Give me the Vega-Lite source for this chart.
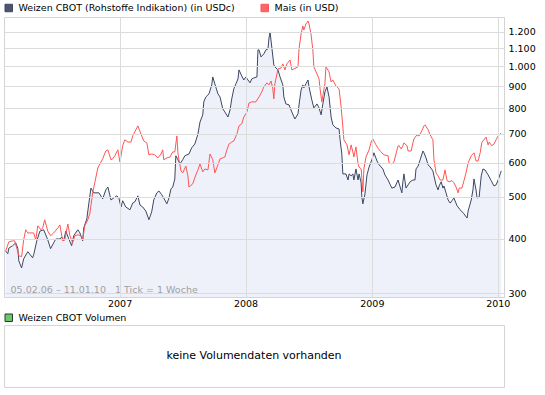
{
"$schema":"https://vega.github.io/schema/vega-lite/v6.json",
"padding":{"left":3,"top":2,"right":0,"bottom":0},
"background":"white",
"config":{
 "font":"DejaVu Sans",
 "view":{"stroke":"#d4d4d4","strokeWidth":1},
 "axis":{"labelFont":"DejaVu Sans","labelFontSize":9.5,"labelColor":"#000000","gridColor":"#dcdcdc","gridWidth":1,"domain":false,"ticks":false},
 "legend":{"labelFont":"DejaVu Sans","labelFontSize":9.5,"labelColor":"#000000","symbolType":"square","symbolSize":56,"orient":"top","offset":3,"padding":0,"columnPadding":24,"labelOffset":5,"rowPadding":0,"labelLimit":400}
},
"datasets":{"prices":[
{"d":"2006-02-05","s":"Weizen","v":375},{"d":"2006-02-11","s":"Weizen","v":370},{"d":"2006-02-14","s":"Weizen","v":381},{"d":"2006-02-25","s":"Weizen","v":386},{"d":"2006-03-06","s":"Weizen","v":392},{"d":"2006-03-12","s":"Weizen","v":381},{"d":"2006-03-15","s":"Weizen","v":356},{"d":"2006-03-23","s":"Weizen","v":343},{"d":"2006-03-29","s":"Weizen","v":360},{"d":"2006-04-10","s":"Weizen","v":374},{"d":"2006-04-24","s":"Weizen","v":362},{"d":"2006-04-27","s":"Weizen","v":368},{"d":"2006-05-06","s":"Weizen","v":396},{"d":"2006-05-15","s":"Weizen","v":417},{"d":"2006-05-26","s":"Weizen","v":420},{"d":"2006-06-07","s":"Weizen","v":398},{"d":"2006-06-15","s":"Weizen","v":380},{"d":"2006-06-24","s":"Weizen","v":392},{"d":"2006-06-30","s":"Weizen","v":400},{"d":"2006-07-12","s":"Weizen","v":400},{"d":"2006-07-17","s":"Weizen","v":404},{"d":"2006-07-23","s":"Weizen","v":396},{"d":"2006-07-29","s":"Weizen","v":417},{"d":"2006-08-07","s":"Weizen","v":400},{"d":"2006-08-15","s":"Weizen","v":386},{"d":"2006-08-21","s":"Weizen","v":407},{"d":"2006-09-02","s":"Weizen","v":420},{"d":"2006-09-08","s":"Weizen","v":413},{"d":"2006-09-16","s":"Weizen","v":396},{"d":"2006-09-19","s":"Weizen","v":424},{"d":"2006-09-28","s":"Weizen","v":445},{"d":"2006-10-04","s":"Weizen","v":484},{"d":"2006-10-10","s":"Weizen","v":524},{"d":"2006-10-18","s":"Weizen","v":511},{"d":"2006-11-02","s":"Weizen","v":511},{"d":"2006-11-13","s":"Weizen","v":495},{"d":"2006-11-22","s":"Weizen","v":519},{"d":"2006-11-28","s":"Weizen","v":527},{"d":"2006-12-07","s":"Weizen","v":492},{"d":"2006-12-15","s":"Weizen","v":497},{"d":"2006-12-24","s":"Weizen","v":503},{"d":"2006-12-30","s":"Weizen","v":497},
{"d":"2007-01-05","s":"Weizen","v":474},{"d":"2007-01-10","s":"Weizen","v":490},{"d":"2007-01-19","s":"Weizen","v":474},{"d":"2007-01-31","s":"Weizen","v":467},{"d":"2007-02-08","s":"Weizen","v":484},{"d":"2007-02-14","s":"Weizen","v":487},{"d":"2007-02-23","s":"Weizen","v":503},{"d":"2007-03-01","s":"Weizen","v":479},{"d":"2007-03-09","s":"Weizen","v":474},{"d":"2007-03-18","s":"Weizen","v":464},{"d":"2007-03-27","s":"Weizen","v":443},{"d":"2007-04-04","s":"Weizen","v":462},{"d":"2007-04-10","s":"Weizen","v":492},{"d":"2007-04-19","s":"Weizen","v":511},{"d":"2007-04-25","s":"Weizen","v":516},{"d":"2007-05-03","s":"Weizen","v":506},{"d":"2007-05-09","s":"Weizen","v":497},{"d":"2007-05-18","s":"Weizen","v":482},{"d":"2007-05-24","s":"Weizen","v":497},{"d":"2007-05-30","s":"Weizen","v":522},{"d":"2007-06-04","s":"Weizen","v":527},{"d":"2007-06-10","s":"Weizen","v":550},{"d":"2007-06-13","s":"Weizen","v":622},{"d":"2007-06-19","s":"Weizen","v":609},{"d":"2007-06-25","s":"Weizen","v":596},{"d":"2007-07-03","s":"Weizen","v":609},{"d":"2007-07-09","s":"Weizen","v":622},{"d":"2007-07-21","s":"Weizen","v":628},{"d":"2007-07-29","s":"Weizen","v":649},{"d":"2007-08-07","s":"Weizen","v":662},{"d":"2007-08-16","s":"Weizen","v":698},{"d":"2007-08-22","s":"Weizen","v":744},{"d":"2007-08-30","s":"Weizen","v":773},{"d":"2007-09-02","s":"Weizen","v":828},{"d":"2007-09-08","s":"Weizen","v":850},{"d":"2007-09-17","s":"Weizen","v":864},{"d":"2007-09-25","s":"Weizen","v":906},{"d":"2007-09-28","s":"Weizen","v":945},{"d":"2007-10-04","s":"Weizen","v":911},{"d":"2007-10-13","s":"Weizen","v":864},{"d":"2007-10-19","s":"Weizen","v":850},{"d":"2007-10-27","s":"Weizen","v":798},{"d":"2007-11-02","s":"Weizen","v":785},{"d":"2007-11-11","s":"Weizen","v":764},{"d":"2007-11-17","s":"Weizen","v":793},{"d":"2007-11-22","s":"Weizen","v":841},{"d":"2007-11-28","s":"Weizen","v":887},{"d":"2007-12-04","s":"Weizen","v":911},{"d":"2007-12-10","s":"Weizen","v":935},{"d":"2007-12-13","s":"Weizen","v":981},{"d":"2007-12-21","s":"Weizen","v":950},{"d":"2007-12-27","s":"Weizen","v":930},
{"d":"2008-01-02","s":"Weizen","v":945},{"d":"2008-01-08","s":"Weizen","v":930},{"d":"2008-01-14","s":"Weizen","v":916},{"d":"2008-01-19","s":"Weizen","v":935},{"d":"2008-01-25","s":"Weizen","v":940},{"d":"2008-02-03","s":"Weizen","v":945},{"d":"2008-02-06","s":"Weizen","v":1091},{"d":"2008-02-09","s":"Weizen","v":1091},{"d":"2008-02-15","s":"Weizen","v":1051},{"d":"2008-02-23","s":"Weizen","v":1068},{"d":"2008-02-29","s":"Weizen","v":1091},{"d":"2008-03-06","s":"Weizen","v":1097},{"d":"2008-03-09","s":"Weizen","v":1162},{"d":"2008-03-12","s":"Weizen","v":1200},{"d":"2008-03-17","s":"Weizen","v":1108},{"d":"2008-03-23","s":"Weizen","v":1007},{"d":"2008-03-29","s":"Weizen","v":991},{"d":"2008-04-04","s":"Weizen","v":981},{"d":"2008-04-10","s":"Weizen","v":945},{"d":"2008-04-18","s":"Weizen","v":906},{"d":"2008-04-21","s":"Weizen","v":850},{"d":"2008-04-27","s":"Weizen","v":819},{"d":"2008-05-06","s":"Weizen","v":815},{"d":"2008-05-14","s":"Weizen","v":785},{"d":"2008-05-23","s":"Weizen","v":756},{"d":"2008-06-01","s":"Weizen","v":777},{"d":"2008-06-04","s":"Weizen","v":815},{"d":"2008-06-10","s":"Weizen","v":882},{"d":"2008-06-15","s":"Weizen","v":906},{"d":"2008-06-18","s":"Weizen","v":892},{"d":"2008-06-24","s":"Weizen","v":911},{"d":"2008-06-30","s":"Weizen","v":930},{"d":"2008-07-03","s":"Weizen","v":896},{"d":"2008-07-11","s":"Weizen","v":837},{"d":"2008-07-17","s":"Weizen","v":802},{"d":"2008-07-26","s":"Weizen","v":819},{"d":"2008-08-01","s":"Weizen","v":802},{"d":"2008-08-07","s":"Weizen","v":773},{"d":"2008-08-12","s":"Weizen","v":819},{"d":"2008-08-18","s":"Weizen","v":873},{"d":"2008-08-24","s":"Weizen","v":896},{"d":"2008-08-30","s":"Weizen","v":850},{"d":"2008-09-05","s":"Weizen","v":764},{"d":"2008-09-10","s":"Weizen","v":733},{"d":"2008-09-19","s":"Weizen","v":721},{"d":"2008-09-28","s":"Weizen","v":717},{"d":"2008-10-01","s":"Weizen","v":677},{"d":"2008-10-06","s":"Weizen","v":628},{"d":"2008-10-09","s":"Weizen","v":565},{"d":"2008-10-18","s":"Weizen","v":565},{"d":"2008-10-24","s":"Weizen","v":547},{"d":"2008-10-27","s":"Weizen","v":565},{"d":"2008-11-02","s":"Weizen","v":559},{"d":"2008-11-07","s":"Weizen","v":565},{"d":"2008-11-10","s":"Weizen","v":547},{"d":"2008-11-16","s":"Weizen","v":580},{"d":"2008-11-22","s":"Weizen","v":547},{"d":"2008-11-25","s":"Weizen","v":565},{"d":"2008-12-01","s":"Weizen","v":539},{"d":"2008-12-03","s":"Weizen","v":500},{"d":"2008-12-06","s":"Weizen","v":482},{"d":"2008-12-12","s":"Weizen","v":508},{"d":"2008-12-18","s":"Weizen","v":562},{"d":"2008-12-24","s":"Weizen","v":586},
{"d":"2009-01-01","s":"Weizen","v":609},{"d":"2009-01-07","s":"Weizen","v":632},{"d":"2009-01-16","s":"Weizen","v":605},{"d":"2009-01-22","s":"Weizen","v":593},{"d":"2009-02-02","s":"Weizen","v":580},{"d":"2009-02-08","s":"Weizen","v":562},{"d":"2009-02-17","s":"Weizen","v":547},{"d":"2009-02-28","s":"Weizen","v":524},{"d":"2009-03-09","s":"Weizen","v":527},{"d":"2009-03-18","s":"Weizen","v":547},{"d":"2009-03-24","s":"Weizen","v":527},{"d":"2009-03-29","s":"Weizen","v":511},{"d":"2009-04-01","s":"Weizen","v":542},{"d":"2009-04-04","s":"Weizen","v":565},{"d":"2009-04-10","s":"Weizen","v":524},{"d":"2009-04-16","s":"Weizen","v":533},{"d":"2009-04-22","s":"Weizen","v":542},{"d":"2009-04-30","s":"Weizen","v":547},{"d":"2009-05-06","s":"Weizen","v":547},{"d":"2009-05-09","s":"Weizen","v":580},{"d":"2009-05-15","s":"Weizen","v":589},{"d":"2009-05-21","s":"Weizen","v":609},{"d":"2009-05-29","s":"Weizen","v":638},{"d":"2009-06-01","s":"Weizen","v":632},{"d":"2009-06-07","s":"Weizen","v":615},{"d":"2009-06-13","s":"Weizen","v":593},{"d":"2009-06-19","s":"Weizen","v":586},{"d":"2009-06-27","s":"Weizen","v":574},{"d":"2009-06-30","s":"Weizen","v":559},{"d":"2009-07-06","s":"Weizen","v":533},{"d":"2009-07-12","s":"Weizen","v":519},{"d":"2009-07-15","s":"Weizen","v":530},{"d":"2009-07-21","s":"Weizen","v":542},{"d":"2009-07-26","s":"Weizen","v":524},{"d":"2009-07-29","s":"Weizen","v":530},{"d":"2009-08-04","s":"Weizen","v":511},{"d":"2009-08-10","s":"Weizen","v":492},{"d":"2009-08-16","s":"Weizen","v":484},{"d":"2009-08-21","s":"Weizen","v":490},{"d":"2009-08-27","s":"Weizen","v":497},{"d":"2009-09-05","s":"Weizen","v":477},{"d":"2009-09-14","s":"Weizen","v":467},{"d":"2009-09-25","s":"Weizen","v":457},{"d":"2009-10-04","s":"Weizen","v":447},{"d":"2009-10-07","s":"Weizen","v":464},{"d":"2009-10-16","s":"Weizen","v":492},{"d":"2009-10-21","s":"Weizen","v":519},{"d":"2009-10-24","s":"Weizen","v":550},{"d":"2009-10-30","s":"Weizen","v":519},{"d":"2009-11-02","s":"Weizen","v":497},{"d":"2009-11-08","s":"Weizen","v":500},{"d":"2009-11-14","s":"Weizen","v":559},{"d":"2009-11-19","s":"Weizen","v":580},{"d":"2009-11-25","s":"Weizen","v":577},{"d":"2009-12-04","s":"Weizen","v":562},{"d":"2009-12-13","s":"Weizen","v":545},{"d":"2009-12-21","s":"Weizen","v":530},{"d":"2009-12-27","s":"Weizen","v":533},{"d":"2010-01-02","s":"Weizen","v":547},{"d":"2010-01-08","s":"Weizen","v":565},{"d":"2010-01-11","s":"Weizen","v":574},
{"d":"2006-02-05","s":"Mais","v":375},{"d":"2006-02-14","s":"Mais","v":394},{"d":"2006-02-25","s":"Mais","v":396},{"d":"2006-03-03","s":"Mais","v":396},{"d":"2006-03-09","s":"Mais","v":381},{"d":"2006-03-15","s":"Mais","v":366},{"d":"2006-03-23","s":"Mais","v":364},{"d":"2006-03-29","s":"Mais","v":398},{"d":"2006-04-04","s":"Mais","v":420},{"d":"2006-04-10","s":"Mais","v":413},{"d":"2006-04-27","s":"Mais","v":413},{"d":"2006-05-03","s":"Mais","v":398},{"d":"2006-05-09","s":"Mais","v":429},{"d":"2006-05-18","s":"Mais","v":420},{"d":"2006-05-23","s":"Mais","v":424},{"d":"2006-05-29","s":"Mais","v":443},{"d":"2006-06-07","s":"Mais","v":417},{"d":"2006-06-15","s":"Mais","v":407},{"d":"2006-06-24","s":"Mais","v":413},{"d":"2006-07-06","s":"Mais","v":424},{"d":"2006-07-12","s":"Mais","v":431},{"d":"2006-07-20","s":"Mais","v":396},{"d":"2006-07-26","s":"Mais","v":398},{"d":"2006-08-04","s":"Mais","v":433},{"d":"2006-08-10","s":"Mais","v":407},{"d":"2006-08-18","s":"Mais","v":392},{"d":"2006-08-24","s":"Mais","v":407},{"d":"2006-09-02","s":"Mais","v":409},{"d":"2006-09-11","s":"Mais","v":407},{"d":"2006-09-16","s":"Mais","v":398},{"d":"2006-09-22","s":"Mais","v":429},{"d":"2006-10-01","s":"Mais","v":443},{"d":"2006-10-07","s":"Mais","v":459},{"d":"2006-10-15","s":"Mais","v":511},{"d":"2006-10-21","s":"Mais","v":539},{"d":"2006-10-30","s":"Mais","v":583},{"d":"2006-11-05","s":"Mais","v":596},{"d":"2006-11-08","s":"Mais","v":602},{"d":"2006-11-13","s":"Mais","v":612},{"d":"2006-11-22","s":"Mais","v":638},{"d":"2006-11-28","s":"Mais","v":642},{"d":"2006-12-07","s":"Mais","v":609},{"d":"2006-12-12","s":"Mais","v":612},{"d":"2006-12-18","s":"Mais","v":622},{"d":"2006-12-27","s":"Mais","v":642},
{"d":"2007-01-02","s":"Mais","v":602},{"d":"2007-01-10","s":"Mais","v":656},{"d":"2007-01-16","s":"Mais","v":677},{"d":"2007-01-25","s":"Mais","v":669},{"d":"2007-02-03","s":"Mais","v":669},{"d":"2007-02-08","s":"Mais","v":691},{"d":"2007-02-23","s":"Mais","v":729},{"d":"2007-03-04","s":"Mais","v":698},{"d":"2007-03-12","s":"Mais","v":673},{"d":"2007-03-21","s":"Mais","v":666},{"d":"2007-03-27","s":"Mais","v":625},{"d":"2007-04-04","s":"Mais","v":628},{"d":"2007-04-13","s":"Mais","v":625},{"d":"2007-04-22","s":"Mais","v":615},{"d":"2007-05-01","s":"Mais","v":628},{"d":"2007-05-06","s":"Mais","v":642},{"d":"2007-05-09","s":"Mais","v":609},{"d":"2007-05-18","s":"Mais","v":615},{"d":"2007-05-27","s":"Mais","v":618},{"d":"2007-06-04","s":"Mais","v":635},{"d":"2007-06-10","s":"Mais","v":635},{"d":"2007-06-16","s":"Mais","v":691},{"d":"2007-06-19","s":"Mais","v":632},{"d":"2007-06-22","s":"Mais","v":609},{"d":"2007-06-28","s":"Mais","v":574},{"d":"2007-07-03","s":"Mais","v":568},{"d":"2007-07-12","s":"Mais","v":589},{"d":"2007-07-18","s":"Mais","v":559},{"d":"2007-07-21","s":"Mais","v":527},{"d":"2007-08-01","s":"Mais","v":536},{"d":"2007-08-10","s":"Mais","v":562},{"d":"2007-08-16","s":"Mais","v":577},{"d":"2007-08-22","s":"Mais","v":596},{"d":"2007-08-30","s":"Mais","v":571},{"d":"2007-09-05","s":"Mais","v":580},{"d":"2007-09-14","s":"Mais","v":577},{"d":"2007-09-20","s":"Mais","v":628},{"d":"2007-09-28","s":"Mais","v":609},{"d":"2007-10-04","s":"Mais","v":568},{"d":"2007-10-13","s":"Mais","v":593},{"d":"2007-10-19","s":"Mais","v":612},{"d":"2007-10-27","s":"Mais","v":615},{"d":"2007-11-02","s":"Mais","v":618},{"d":"2007-11-08","s":"Mais","v":642},{"d":"2007-11-14","s":"Mais","v":662},{"d":"2007-11-22","s":"Mais","v":669},{"d":"2007-11-28","s":"Mais","v":673},{"d":"2007-12-07","s":"Mais","v":698},{"d":"2007-12-13","s":"Mais","v":729},{"d":"2007-12-21","s":"Mais","v":737},{"d":"2007-12-27","s":"Mais","v":764},
{"d":"2008-01-05","s":"Mais","v":785},{"d":"2008-01-11","s":"Mais","v":823},{"d":"2008-01-19","s":"Mais","v":828},{"d":"2008-01-31","s":"Mais","v":828},{"d":"2008-02-09","s":"Mais","v":850},{"d":"2008-02-17","s":"Mais","v":873},{"d":"2008-02-23","s":"Mais","v":896},{"d":"2008-03-03","s":"Mais","v":916},{"d":"2008-03-09","s":"Mais","v":906},{"d":"2008-03-15","s":"Mais","v":925},{"d":"2008-03-20","s":"Mais","v":887},{"d":"2008-03-23","s":"Mais","v":841},{"d":"2008-03-26","s":"Mais","v":911},{"d":"2008-04-01","s":"Mais","v":960},{"d":"2008-04-04","s":"Mais","v":986},{"d":"2008-04-13","s":"Mais","v":991},{"d":"2008-04-18","s":"Mais","v":1013},{"d":"2008-04-24","s":"Mais","v":981},{"d":"2008-04-30","s":"Mais","v":1013},{"d":"2008-05-09","s":"Mais","v":1034},{"d":"2008-05-14","s":"Mais","v":981},{"d":"2008-05-20","s":"Mais","v":986},{"d":"2008-06-01","s":"Mais","v":997},{"d":"2008-06-04","s":"Mais","v":1097},{"d":"2008-06-10","s":"Mais","v":1187},{"d":"2008-06-15","s":"Mais","v":1239},{"d":"2008-06-18","s":"Mais","v":1213},{"d":"2008-06-24","s":"Mais","v":1252},{"d":"2008-06-30","s":"Mais","v":1272},{"d":"2008-07-03","s":"Mais","v":1252},{"d":"2008-07-09","s":"Mais","v":1181},{"d":"2008-07-14","s":"Mais","v":1091},{"d":"2008-07-17","s":"Mais","v":997},{"d":"2008-07-26","s":"Mais","v":960},{"d":"2008-08-01","s":"Mais","v":935},{"d":"2008-08-04","s":"Mais","v":887},{"d":"2008-08-09","s":"Mais","v":828},{"d":"2008-08-12","s":"Mais","v":855},{"d":"2008-08-18","s":"Mais","v":911},{"d":"2008-08-21","s":"Mais","v":997},{"d":"2008-08-30","s":"Mais","v":971},{"d":"2008-09-05","s":"Mais","v":920},{"d":"2008-09-10","s":"Mais","v":930},{"d":"2008-09-19","s":"Mais","v":901},{"d":"2008-09-28","s":"Mais","v":887},{"d":"2008-10-04","s":"Mais","v":806},{"d":"2008-10-09","s":"Mais","v":725},{"d":"2008-10-12","s":"Mais","v":677},{"d":"2008-10-21","s":"Mais","v":659},{"d":"2008-10-27","s":"Mais","v":625},{"d":"2008-11-02","s":"Mais","v":659},{"d":"2008-11-07","s":"Mais","v":635},{"d":"2008-11-10","s":"Mais","v":618},{"d":"2008-11-16","s":"Mais","v":652},{"d":"2008-11-22","s":"Mais","v":596},{"d":"2008-11-25","s":"Mais","v":586},{"d":"2008-12-01","s":"Mais","v":580},{"d":"2008-12-06","s":"Mais","v":514},{"d":"2008-12-09","s":"Mais","v":580},{"d":"2008-12-15","s":"Mais","v":618},{"d":"2008-12-24","s":"Mais","v":642},{"d":"2008-12-30","s":"Mais","v":669},
{"d":"2009-01-04","s":"Mais","v":680},{"d":"2009-01-13","s":"Mais","v":659},{"d":"2009-01-22","s":"Mais","v":642},{"d":"2009-01-28","s":"Mais","v":635},{"d":"2009-02-05","s":"Mais","v":625},{"d":"2009-02-17","s":"Mais","v":622},{"d":"2009-02-20","s":"Mais","v":599},{"d":"2009-02-28","s":"Mais","v":596},{"d":"2009-03-06","s":"Mais","v":602},{"d":"2009-03-12","s":"Mais","v":628},{"d":"2009-03-18","s":"Mais","v":656},{"d":"2009-03-21","s":"Mais","v":656},{"d":"2009-03-27","s":"Mais","v":645},{"d":"2009-04-01","s":"Mais","v":656},{"d":"2009-04-04","s":"Mais","v":666},{"d":"2009-04-13","s":"Mais","v":656},{"d":"2009-04-16","s":"Mais","v":638},{"d":"2009-04-25","s":"Mais","v":638},{"d":"2009-04-30","s":"Mais","v":666},{"d":"2009-05-03","s":"Mais","v":680},{"d":"2009-05-12","s":"Mais","v":695},{"d":"2009-05-18","s":"Mais","v":691},{"d":"2009-05-26","s":"Mais","v":710},{"d":"2009-06-01","s":"Mais","v":729},{"d":"2009-06-04","s":"Mais","v":733},{"d":"2009-06-13","s":"Mais","v":714},{"d":"2009-06-19","s":"Mais","v":695},{"d":"2009-06-27","s":"Mais","v":677},{"d":"2009-06-30","s":"Mais","v":609},{"d":"2009-07-06","s":"Mais","v":568},{"d":"2009-07-12","s":"Mais","v":559},{"d":"2009-07-18","s":"Mais","v":547},{"d":"2009-07-26","s":"Mais","v":547},{"d":"2009-08-01","s":"Mais","v":577},{"d":"2009-08-07","s":"Mais","v":545},{"d":"2009-08-13","s":"Mais","v":542},{"d":"2009-08-21","s":"Mais","v":545},{"d":"2009-08-27","s":"Mais","v":539},{"d":"2009-09-02","s":"Mais","v":527},{"d":"2009-09-08","s":"Mais","v":511},{"d":"2009-09-11","s":"Mais","v":524},{"d":"2009-09-19","s":"Mais","v":524},{"d":"2009-09-25","s":"Mais","v":545},{"d":"2009-10-01","s":"Mais","v":568},{"d":"2009-10-07","s":"Mais","v":599},{"d":"2009-10-16","s":"Mais","v":622},{"d":"2009-10-24","s":"Mais","v":632},{"d":"2009-10-30","s":"Mais","v":605},{"d":"2009-11-05","s":"Mais","v":605},{"d":"2009-11-11","s":"Mais","v":632},{"d":"2009-11-16","s":"Mais","v":669},{"d":"2009-11-22","s":"Mais","v":677},{"d":"2009-11-28","s":"Mais","v":687},{"d":"2009-12-04","s":"Mais","v":659},{"d":"2009-12-07","s":"Mais","v":669},{"d":"2009-12-15","s":"Mais","v":656},{"d":"2009-12-21","s":"Mais","v":662},{"d":"2009-12-27","s":"Mais","v":677},{"d":"2010-01-02","s":"Mais","v":691},{"d":"2010-01-11","s":"Mais","v":702}
]},
"vconcat":[
 {
  "width":500,"height":280,
  "layer":[
   {"data":{"name":"prices"},"transform":[{"filter":"datum.s == 'Weizen'"}],
    "mark":{"type":"area","color":"#eef1fa","interpolate":"linear"},
    "encoding":{
     "x":{"field":"d","type":"temporal","scale":{"domain":[{"year":2006,"month":1,"date":31},{"year":2010,"month":1,"date":19}]},
        "axis":{"title":null,"values":[{"year":2007,"month":1,"date":1},{"year":2008,"month":1,"date":1},{"year":2009,"month":1,"date":1},{"year":2010,"month":1,"date":1}],"format":"%Y","grid":true,"labelPadding":1,"zindex":1}},
     "y":{"field":"v","type":"quantitative","scale":{"type":"log","domain":[294,1299],"nice":false},
        "axis":{"title":null,"orient":"right","values":[300,400,500,600,700,800,900,1000,1100,1200],"labelExpr":"replace(format(datum.value, ','), ',', '.')","grid":true,"labelPadding":4,"labelAlign":"left","zindex":1}},
     "y2":{"datum":294}}},
   {"data":{"name":"prices"},
    "mark":{"type":"line","strokeWidth":1},
    "encoding":{
     "x":{"field":"d","type":"temporal"},
     "y":{"field":"v","type":"quantitative"},
     "color":{"field":"s","type":"nominal","scale":{"domain":["Weizen","Mais"],"range":["#3d4763","#ff5555"]},
      "legend":{"title":null,"orient":"top","direction":"horizontal","symbolType":"square","labelExpr":"datum.value == 'Weizen' ? 'Weizen CBOT (Rohstoffe Indikation) (in USDc)' : 'Mais (in USD)'",
        "encode":{"symbols":{"update":{"fill":{"signal":"datum.value == 'Mais' ? '#ff6666' : '#4b5570'"},"stroke":{"value":"#333333"},"strokeWidth":{"value":1},"opacity":{"value":1}}}}}}}},
   {"data":{"values":[{"note":"05.02.06 – 11.01.10\u00a0\u00a0\u00a01 Tick = 1 Woche"}]},
    "mark":{"type":"text","align":"left","baseline":"middle","fill":"#a0a0a0","fontSize":9.5},
    "encoding":{"x":{"datum":{"year":2006,"month":2,"date":19},"type":"temporal"},"y":{"datum":305,"type":"quantitative"},"text":{"field":"note","type":"nominal"}}}
  ]
 },
 {
  "width":500,"height":62,
  "data":{"values":[{"panel":"Weizen CBOT Volumen","msg":"keine Volumendaten vorhanden"}]},
  "encoding":{
   "x":{"datum":0.5,"type":"quantitative","scale":{"domain":[0,1]},"axis":null},
   "y":{"datum":0.5,"type":"quantitative","scale":{"domain":[0,1]},"axis":null}
  },
  "layer":[
   {"mark":{"type":"point","filled":true,"size":0,"shape":"square"},
    "encoding":{"color":{"field":"panel","type":"nominal","scale":{"range":["#66cc66"]},
     "legend":{"title":null,"orient":"top","offset":1,"symbolType":"square","symbolStrokeColor":"#333333","symbolStrokeWidth":1,"symbolOpacity":1,
       "encode":{"symbols":{"update":{"stroke":{"value":"#333333"},"strokeWidth":{"value":1},"opacity":{"value":1}}}}}}}},
   {"mark":{"type":"text","fontSize":11,"font":"DejaVu Sans","color":"#000000"},
    "encoding":{"text":{"field":"msg","type":"nominal"}}}
  ]
 }
],
"spacing":4,
"resolve":{"scale":{"color":"independent"},"legend":{"color":"independent"}}
}
